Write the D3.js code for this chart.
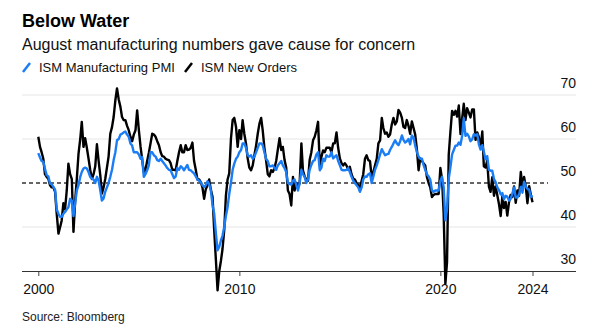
<!DOCTYPE html>
<html>
<head>
<meta charset="utf-8">
<script src="https://cdn.jsdelivr.net/npm/d3@7"></script>
<style>
  body { margin: 0; background: #fff; }
  text { font-family: "Liberation Sans", Arial, sans-serif; }
</style>
</head>
<body>
<script>
// ISM Manufacturing PMI, monthly from Jan 2000 to Aug 2024
var pmi = [
  56.8, 55.8, 55.0, 54.8, 53.2, 51.8, 51.5, 49.9, 49.7, 49.1, 48.5, 44.0, // 2000
  43.0, 42.3, 42.3, 43.0, 43.4, 44.0, 44.5, 46.4, 46.0, 42.5, 45.5, 48.3, // 2001
  49.5, 51.4, 52.5, 53.3, 53.5, 53.3, 52.5, 51.4, 51.0, 50.8, 50.0, 51.4, // 2002
  50.5, 48.3, 46.0, 46.5, 48.0, 49.0, 50.0, 51.4, 53.0, 55.2, 57.0, 59.7, // 2003
  60.0, 61.0, 61.2, 61.5, 61.7, 61.0, 60.5, 59.0, 58.5, 57.0, 57.0, 57.0, // 2004
  56.5, 55.5, 55.9, 51.4, 52.0, 52.9, 54.0, 57.0, 57.0, 56.3, 56.0, 55.2, // 2005
  55.0, 55.5, 55.0, 54.5, 54.0, 53.4, 53.0, 52.9, 52.0, 51.1, 51.5, 53.4, // 2006
  53.0, 53.8, 53.5, 52.9, 53.5, 54.1, 53.0, 52.9, 52.5, 52.2, 51.5, 50.8, // 2007
  50.5, 50.2, 49.5, 49.1, 49.5, 50.4, 49.8, 48.3, 45.0, 43.0, 38.5, 34.7, // 2008
  35.5, 37.0, 38.0, 40.0, 42.5, 44.5, 47.5, 50.0, 53.0, 54.4, 55.5, 56.0, // 2009
  57.0, 57.5, 59.0, 59.0, 58.0, 56.3, 56.0, 56.3, 55.5, 56.0, 57.0, 58.0, // 2010
  59.0, 59.0, 58.6, 57.0, 55.5, 55.0, 53.8, 53.8, 54.0, 53.4, 53.0, 54.0, // 2011
  54.5, 55.0, 54.0, 53.4, 52.5, 50.0, 49.8, 49.6, 50.5, 50.8, 49.5, 48.3, // 2012
  50.0, 53.0, 52.0, 51.4, 50.0, 50.8, 53.0, 54.1, 55.0, 55.2, 56.5, 57.0, // 2013
  52.9, 53.5, 55.5, 55.0, 56.3, 56.0, 56.0, 57.0, 55.6, 56.0, 56.3, 55.0, // 2014
  54.0, 53.0, 52.9, 52.9, 53.0, 53.4, 52.5, 51.4, 50.5, 50.0, 49.5, 49.0, // 2015
  48.0, 49.0, 50.8, 51.5, 51.4, 52.0, 52.2, 50.0, 51.5, 53.0, 54.0, 55.2, // 2016
  56.5, 57.7, 57.0, 56.3, 56.5, 56.6, 57.5, 58.2, 59.0, 59.7, 59.0, 58.6, // 2017
  59.5, 60.8, 59.8, 59.2, 59.5, 60.0, 58.8, 60.8, 60.3, 58.5, 57.0, 56.0, // 2018
  55.5, 55.5, 54.1, 53.0, 52.0, 51.5, 50.8, 48.3, 48.0, 48.3, 48.3, 48.3, // 2019
  50.5, 51.4, 49.0, 41.5, 44.0, 51.0, 53.5, 56.5, 57.5, 58.5, 58.5, 59.2, // 2020
  58.7, 60.8, 64.7, 60.7, 61.2, 60.6, 59.5, 59.9, 61.1, 60.8, 61.1, 58.8, // 2021
  57.6, 58.6, 57.1, 55.4, 56.1, 53.0, 52.8, 52.8, 50.9, 50.2, 49.0, 48.4, // 2022
  47.4, 47.7, 46.3, 47.1, 46.9, 46.0, 46.4, 47.6, 49.0, 46.7, 46.7, 47.4, // 2023
  49.1, 47.8, 50.3, 49.2, 48.7, 48.5, 46.8, 47.2                          // 2024
];

// ISM New Orders, same months
var newOrders = [
  60.5, 58.2, 57.0, 55.5, 52.0, 51.4, 51.0, 49.5, 49.0, 49.0, 48.0, 43.0, // 2000
  38.5, 40.0, 41.5, 45.4, 44.0, 48.3, 54.4, 52.0, 50.9, 38.9, 46.0, 51.0, // 2001
  56.7, 60.0, 63.9, 58.2, 60.2, 58.0, 55.6, 53.0, 50.9, 52.0, 53.8, 58.8, // 2002
  55.0, 51.7, 47.6, 49.0, 50.9, 53.5, 56.0, 61.2, 62.7, 65.0, 68.8, 71.5, // 2003
  69.0, 67.3, 65.0, 64.3, 64.3, 63.0, 62.0, 60.5, 59.5, 61.0, 62.0, 66.5, // 2004
  62.0, 58.2, 55.5, 52.5, 53.0, 55.0, 56.8, 59.0, 61.2, 61.0, 60.5, 59.5, // 2005
  58.6, 57.0, 56.1, 56.0, 55.5, 55.3, 55.2, 54.5, 53.0, 53.0, 52.9, 55.0, // 2006
  57.0, 58.6, 57.0, 57.0, 58.6, 57.5, 57.6, 58.0, 59.2, 55.0, 53.0, 50.8, // 2007
  50.8, 50.2, 49.0, 46.4, 48.6, 49.5, 50.8, 48.5, 46.8, 39.3, 32.4, 25.6, // 2008
  30.0, 32.4, 35.0, 39.3, 47.0, 50.8, 52.2, 60.0, 64.3, 64.8, 62.8, 58.2, // 2009
  62.0, 60.0, 64.3, 61.2, 59.0, 55.6, 53.5, 52.9, 54.0, 56.3, 58.5, 61.2, // 2010
  63.5, 64.8, 62.0, 58.0, 55.2, 52.0, 51.5, 52.9, 52.5, 53.4, 55.0, 57.6, // 2011
  60.2, 57.5, 58.2, 55.2, 53.5, 48.3, 47.5, 44.9, 51.4, 48.3, 50.0, 49.0, // 2012
  50.0, 59.0, 52.9, 51.5, 50.8, 50.5, 55.2, 57.0, 59.7, 60.5, 62.0, 63.9, // 2013
  54.0, 56.0, 57.4, 57.0, 58.0, 58.0, 58.0, 57.0, 59.0, 59.0, 61.5, 58.0, // 2014
  55.6, 54.5, 54.0, 54.5, 54.0, 53.0, 53.7, 52.0, 51.0, 50.8, 50.0, 49.5, // 2015
  49.0, 50.5, 52.0, 55.5, 56.3, 55.2, 55.0, 51.4, 52.5, 54.0, 55.5, 59.0, // 2016
  59.7, 64.8, 62.5, 61.2, 61.5, 60.5, 61.0, 63.3, 64.8, 63.3, 64.0, 66.6, // 2017
  66.0, 64.8, 62.8, 62.5, 64.3, 63.0, 61.2, 64.0, 62.5, 61.0, 57.6, 52.9, // 2018
  55.6, 55.0, 54.5, 54.0, 51.4, 50.0, 49.0, 46.8, 47.3, 47.5, 47.5, 47.5, // 2019
  53.4, 50.8, 43.0, 27.1, 32.0, 56.4, 61.5, 66.4, 65.5, 66.4, 65.1, 67.6, // 2020
  61.1, 64.8, 68.0, 64.3, 67.0, 66.0, 64.9, 66.7, 66.7, 59.8, 61.5, 60.4, // 2021
  57.9, 61.7, 53.8, 53.5, 55.1, 49.2, 48.0, 51.3, 47.1, 49.2, 47.2, 45.2, // 2022
  42.5, 47.0, 44.3, 45.7, 42.6, 45.6, 47.3, 46.8, 49.2, 45.5, 48.3, 47.1, // 2023
  52.5, 49.2, 51.4, 49.1, 45.4, 49.3, 47.4, 45.6                          // 2024
];

var yTicks = [30, 40, 50, 60, 70];
var xTickDates = [new Date(2000, 0, 1), new Date(2010, 0, 1), new Date(2020, 0, 1), new Date(2024, 7, 1)];
var seriesNames = ['ISM Manufacturing PMI', 'ISM New Orders'];
var seriesColors = ['#1a7df5', '#000000'];

var screen = { width: 592, height: 332 };
var plot = { left: 22, right: 576, top: 95, bottom: 271 };

var monthDate = function(i){ return new Date(2000, i, 1); };

var svg = d3.select('body')
            .append('svg')
            .attr('width', screen.width)
            .attr('height', screen.height);

var xScale = d3.scaleTime()
               .domain([monthDate(0), monthDate(pmi.length - 1)])
               .range([38.3, 532.5]);
var yScale = d3.scaleLinear()
               .domain([30, 70])
               .range([plot.bottom, plot.top]);

// header
svg.append('text')
   .attr('x', 22)
   .attr('y', 27)
   .attr('font-size', 18)
   .attr('font-weight', 'bold')
   .attr('fill', '#000')
   .text('Below Water');
svg.append('text')
   .attr('x', 22)
   .attr('y', 50)
   .attr('font-size', 16)
   .attr('fill', '#111')
   .text('August manufacturing numbers gave cause for concern');

// legend
var legend = svg.append('g')
                .classed('legend', true);
var legendX = [22, 184];
seriesNames.forEach(function(name, i){
  legend.append('line')
        .attr('x1', legendX[i] + 1)
        .attr('y1', 72)
        .attr('x2', legendX[i] + 8)
        .attr('y2', 63)
        .attr('stroke', seriesColors[i])
        .attr('stroke-width', 2.5);
  legend.append('text')
        .attr('x', legendX[i] + 17)
        .attr('y', 72)
        .attr('font-size', 13)
        .attr('fill', '#111')
        .text(name);
});

// gridlines and y labels on the right
var grid = svg.append('g')
              .classed('grid', true);
grid.selectAll('line')
    .data(yTicks.filter(function(d){ return d !== 30 && d !== 50; }))
    .enter()
    .append('line')
    .attr('x1', plot.left)
    .attr('x2', plot.right)
    .attr('y1', function(d){ return yScale(d); })
    .attr('y2', function(d){ return yScale(d); })
    .attr('stroke', '#e6e6e6')
    .attr('stroke-width', 1);
grid.selectAll('text')
    .data(yTicks)
    .enter()
    .append('text')
    .attr('x', plot.right)
    .attr('y', function(d){ return yScale(d) - 7.5; })
    .attr('text-anchor', 'end')
    .attr('font-size', 14)
    .attr('fill', '#111')
    .text(function(d){ return d; });

// x axis
var xAxis = d3.axisBottom(xScale)
              .tickValues(xTickDates)
              .tickSize(5)
              .tickPadding(8)
              .tickFormat(d3.timeFormat('%Y'));
var xg = svg.append('g')
            .classed('XAxis', true)
            .attr('transform', 'translate(0,' + plot.bottom + ')')
            .call(xAxis);
xg.select('.domain').remove();
xg.selectAll('.tick line').attr('stroke', '#444');
xg.selectAll('.tick text')
  .attr('font-size', 14)
  .attr('font-family', '"Liberation Sans", Arial, sans-serif')
  .attr('fill', '#111');
svg.append('line')
   .attr('x1', plot.left)
   .attr('x2', plot.right)
   .attr('y1', plot.bottom + 0.5)
   .attr('y2', plot.bottom + 0.5)
   .attr('stroke', '#333')
   .attr('stroke-width', 1);

// dashed 50 reference line
svg.append('line')
   .attr('x1', plot.left)
   .attr('x2', 548)
   .attr('y1', yScale(50))
   .attr('y2', yScale(50))
   .attr('stroke', '#333')
   .attr('stroke-width', 1.5)
   .attr('stroke-dasharray', '4,3');

// series lines, new orders under the PMI
var line = d3.line()
             .x(function(d, i){ return xScale(monthDate(i)); })
             .y(function(d){ return yScale(d); });
[newOrders, pmi].forEach(function(series, i){
  svg.append('path')
     .datum(series)
     .attr('d', line)
     .attr('fill', 'none')
     .attr('stroke', seriesColors[1 - i])
     .attr('stroke-width', 2.4)
     .attr('stroke-linejoin', 'round');
});

svg.append('text')
   .attr('x', 22)
   .attr('y', 321)
   .attr('font-size', 12)
   .attr('fill', '#222')
   .text('Source: Bloomberg');
</script>
</body>
</html>
